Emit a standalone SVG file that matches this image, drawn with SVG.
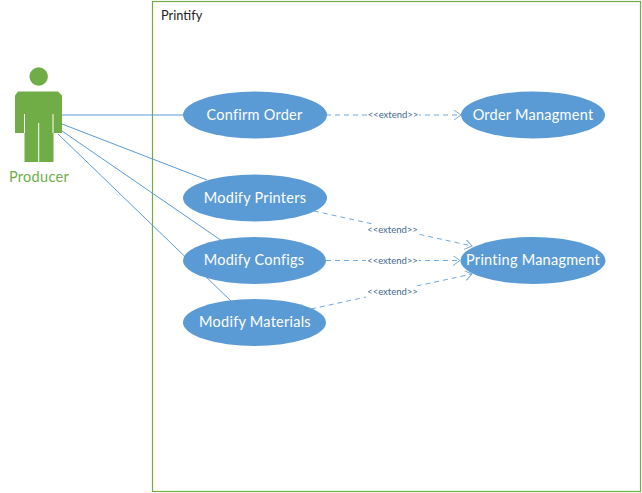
<svg xmlns="http://www.w3.org/2000/svg" width="642" height="493" viewBox="0 0 642 493">
<defs>
<style>
text{font-family:"Lato","Liberation Sans",Arial,sans-serif}
.uc{fill:#5b9bd5}
.ut{fill:#fff;font-size:14.500px;text-anchor:middle;letter-spacing:.25px}
.assoc{stroke:#5b9bd5;stroke-width:1;fill:none}
.ext{stroke:#5b9bd5;stroke-width:1;fill:none;stroke-dasharray:5 4;opacity:.85}
.lab{fill:#44688f;font-size:9.500px;text-anchor:middle}
.bg{fill:#fff}
</style>
<marker id="open" markerWidth="12" markerHeight="12" refX="9" refY="5" orient="auto" markerUnits="userSpaceOnUse">
<path d="M2 0L9 5L2 10" fill="none" stroke="#5b9bd5" stroke-width="1"/>
</marker>
</defs>
<rect width="642" height="493" fill="#fff"/>
<g id="system">
<rect x="152.500" y="1.500" width="488" height="490" fill="none" stroke="#70ad47" stroke-width="1.200"/>
<text x="161" y="20" font-size="12.800" fill="#222">Printify</text>
</g>
<g id="connectors">
<path class="assoc" d="M62 115H184"/>
<path class="assoc" d="M62 124L207 180"/>
<path class="assoc" d="M62 131L222 241"/>
<path class="assoc" d="M58 134L231 301"/>
<path class="ext" marker-end="url(#open)" d="M326 115H461"/>
<path class="ext" marker-end="url(#open)" d="M314 211L472 246"/>
<path class="ext" marker-end="url(#open)" d="M326 260.500H460"/>
<path class="ext" marker-end="url(#open)" d="M311 309L472 274"/>
<g>
<rect class="bg" x="367" y="109" width="52" height="12"/>
<text class="lab" x="393" y="118">&lt;&lt;extend&gt;&gt;</text>
<rect class="bg" x="366" y="224" width="53" height="12"/>
<text class="lab" x="392.500" y="233">&lt;&lt;extend&gt;&gt;</text>
<rect class="bg" x="366" y="255" width="53" height="12"/>
<text class="lab" x="392.500" y="264">&lt;&lt;extend&gt;&gt;</text>
<rect class="bg" x="366" y="286" width="53" height="12"/>
<text class="lab" x="392.500" y="295">&lt;&lt;extend&gt;&gt;</text>
</g>
</g>
<g id="producer">
<circle cx="38.700" cy="76.500" r="9.200" fill="#70ad47"/>
<path fill="#70ad47" d="M18 91.500H58L62 95.500V133H53.500V162H24.500V133H15V95.500Z"/>
<path stroke="#fff" stroke-width="1" fill="none" d="M24.500 114V133M53 114V133M38.700 123V162"/>
<text x="39" y="182" font-size="14.500" fill="#70ad47" text-anchor="middle" letter-spacing=".3">Producer</text>
</g>
<g id="confirm-order"><ellipse class="uc" cx="255" cy="115" rx="72" ry="23.500"/><text class="ut" x="254.500" y="120">Confirm Order</text></g>
<g id="order-managment"><ellipse class="uc" cx="533" cy="115" rx="72" ry="23.500"/><text class="ut" x="533" y="120">Order Managment</text></g>
<g id="modify-printers"><ellipse class="uc" cx="255" cy="198" rx="72" ry="23.500"/><text class="ut" x="255" y="203">Modify Printers</text></g>
<g id="modify-configs"><ellipse class="uc" cx="254.500" cy="260.500" rx="71.500" ry="23.500"/><text class="ut" x="254" y="265">Modify Configs</text></g>
<g id="modify-materials"><ellipse class="uc" cx="254.500" cy="322.500" rx="71.500" ry="23.500"/><text class="ut" x="255" y="327">Modify Materials</text></g>
<g id="printing-managment"><ellipse class="uc" cx="533" cy="260.500" rx="72.500" ry="23.500"/><text class="ut" x="533" y="265">Printing Managment</text></g>
</svg>
